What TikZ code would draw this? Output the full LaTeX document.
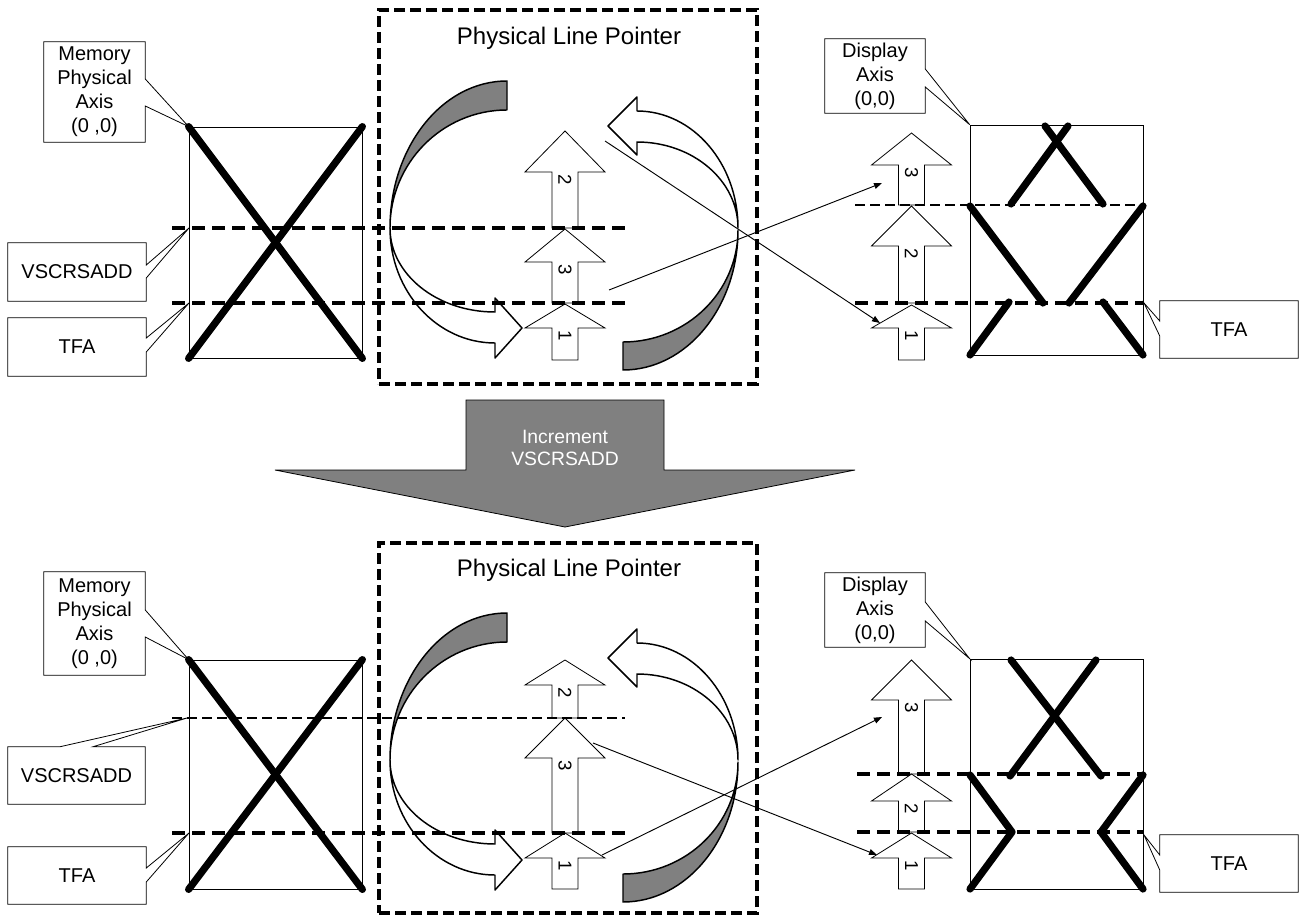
\documentclass[tikz,border=0pt]{standalone}
\usepackage{fontspec}
\setmainfont{Liberation Sans}
\usepackage{tikz}
\usetikzlibrary{arrows.meta}
\definecolor{ShadeGray}{RGB}{128,128,128}

\newcommand{\upblock}[6]{%
    \draw[blockarrow] ({#2-13},#5) -- ({#2-13},#4) -- ({#2-40},#4) -- (#2,#3)
        -- ({#2+40},#4) -- ({#2+13},#4) -- ({#2+13},#5) -- cycle;
    \node[digit] (#1) at (#2,{#4+2}) {#6};
}

\begin{document}
\begin{tikzpicture}[x=0.75pt,y=-0.75pt,
    frame/.style={draw,line width=0.6pt,inner sep=0pt},
    calltext/.style={align=center,inner sep=0pt,font=\fontsize{15}{18}\selectfont},
    callout/.style={draw,line width=0.6pt,line join=miter},
    ptrbox/.style={draw,line width=2.7pt,dash pattern=on 8pt off 4pt,inner sep=0pt},
    heavy/.style={line width=5.4pt,line cap=round,line join=round},
    thickdash/.style={line width=2.8pt,dash pattern=on 10pt off 5pt},
    thindash/.style={line width=1.3pt,dash pattern=on 7.5pt off 3.75pt},
    ribbon/.style={draw,line width=1.1pt,line join=round},
    blockarrow/.style={draw,fill=white,line width=0.6pt},
    digit/.style={rotate=-90,anchor=west,inner sep=0pt,font=\fontsize{14}{14}\selectfont},
    pointer/.style={line width=0.7pt,-{Triangle[length=6pt,width=4.5pt]}},
    title/.style={font=\fontsize{18}{20}\selectfont}]
    \useasboundingbox (0,0) rectangle (1308,917);

    \node[ptrbox,minimum width=283.5pt,minimum height=280.5pt] (plpT) at (568,197) {};
    \node[ptrbox,minimum width=283.5pt,minimum height=277.5pt] (plpB) at (568,728) {};
    \node[title] (plpTitleT) at (569,38) {Physical Line Pointer};
    \node[title] (plpTitleB) at (569,570) {Physical Line Pointer};

    \foreach \dy in {0,532} {
      \begin{scope}[shift={(0,\dy)}]
        \filldraw[ribbon,fill=ShadeGray] (507,81)
            arc[start angle=270,end angle=180,x radius=117,y radius=147]
            arc[start angle=180,end angle=270,x radius=117,y radius=118] -- cycle;
        \filldraw[ribbon,fill=white] (390,228)
            arc[start angle=180,end angle=90,x radius=105,y radius=84]
            -- (495,298) -- (522,328) -- (495,358) -- (495,343)
            arc[start angle=90,end angle=180,x radius=105,y radius=115] -- cycle;
        \filldraw[ribbon,fill=ShadeGray] (623,370)
            arc[start angle=90,end angle=0,x radius=115,y radius=140]
            arc[start angle=0,end angle=90,x radius=115,y radius=112] -- cycle;
        \filldraw[ribbon,fill=white] (738,228)
            arc[start angle=0,end angle=-90,x radius=101,y radius=117]
            -- (637,97) -- (608,126) -- (637,155) -- (637,142)
            arc[start angle=-90,end angle=0,x radius=101,y radius=86] -- cycle;
      \end{scope}
    }

    \node[frame,minimum width=129.75pt,minimum height=173.25pt] (memRectT) at (275.5,242.5) {};
    \node[frame,minimum width=129.75pt,minimum height=171.75pt] (memRectB) at (275.5,774.5) {};
    \node[frame,minimum width=129.75pt,minimum height=172.5pt] (dispRectT) at (1056.5,240) {};
    \node[frame,minimum width=129.75pt,minimum height=172.5pt] (dispRectB) at (1056.5,774) {};

    \upblock{lpT2}{565}{131}{172}{228}{2}
    \upblock{lpT3}{565}{229}{262}{303}{3}
    \upblock{lpT1}{565}{304}{328}{360}{1}
    \upblock{dpT3}{911.5}{133}{165}{205}{3}
    \upblock{dpT2}{911.5}{206}{246}{303}{2}
    \upblock{dpT1}{911.5}{305}{328}{360}{1}
    \upblock{lpB2}{565}{660}{685}{718}{2}
    \upblock{lpB3}{565}{718}{758}{833}{3}
    \upblock{lpB1}{565}{833}{858}{889}{1}
    \upblock{dpB3}{911.5}{660}{700}{774}{3}
    \upblock{dpB2}{911.5}{774}{801}{832}{2}
    \upblock{dpB1}{911.5}{833}{858}{889}{1}

    \draw[thickdash] (172,228) -- (625,228);
    \draw[thickdash] (172,303) -- (625,303);
    \draw[thindash] (855,205) -- (1143,205);
    \draw[thickdash] (855,303) -- (1143,303);
    \draw[thindash] (172,718) -- (625,718);
    \draw[thickdash] (172,833) -- (625,833);
    \draw[thickdash] (857,774) -- (1143,774);
    \draw[thickdash] (857,832) -- (1143,832);

    \draw[heavy] (memRectT.north west) -- (memRectT.south east);
    \draw[heavy] (memRectT.north east) -- (memRectT.south west);
    \draw[heavy] (memRectB.north west) -- (memRectB.south east);
    \draw[heavy] (memRectB.north east) -- (memRectB.south west);
    \draw[heavy] (1045,126) -- (1103,204);
    \draw[heavy] (1068,126) -- (1011,204);
    \draw[heavy] (970,206) -- (1043,303);
    \draw[heavy] (1143,206) -- (1069,303);
    \draw[heavy] (1009,302) -- (970,355);
    \draw[heavy] (1103,302) -- (1143,355);
    \draw[heavy] (1011,660) -- (1101,776);
    \draw[heavy] (1096,660) -- (1010,776);
    \draw[heavy] (970,775) -- (1012,832) -- (970,889);
    \draw[heavy] (1143,775) -- (1101,832) -- (1143,889);

    \coordinate (vsLvlT) at (189,228);
    \coordinate (tfaLvlT) at (189,303);
    \coordinate (tfaRLvlT) at (1144,303);
    \coordinate (vsLvlB) at (187,718);
    \coordinate (tfaLvlB) at (189,833);
    \coordinate (tfaRLvlB) at (1144,835);

    \node[calltext,minimum width=75.75pt,minimum height=75pt] (memAxisT) at (94.5,92) {Memory\\Physical\\Axis\\(0 ,0)};
    \node[calltext,minimum width=103.5pt,minimum height=43.5pt] (vscrT) at (77,272) {VSCRSADD};
    \node[calltext,minimum width=103.5pt,minimum height=43.5pt] (tfaLT) at (77,347) {TFA};
    \node[calltext,minimum width=75pt,minimum height=55.5pt] (dispAxisT) at (875,76) {Display\\Axis\\(0,0)};
    \node[calltext,minimum width=103.5pt,minimum height=42.75pt] (tfaRT) at (1229,329.5) {TFA};
    \node[calltext,minimum width=75.75pt,minimum height=77.25pt] (memAxisB) at (94.5,623.5) {Memory\\Physical\\Axis\\(0 ,0)};
    \node[calltext,minimum width=102.75pt,minimum height=42.75pt] (vscrB) at (76.5,775.5) {VSCRSADD};
    \node[calltext,minimum width=103.5pt,minimum height=42.75pt] (tfaLB) at (77,875.5) {TFA};
    \node[calltext,minimum width=75pt,minimum height=55.5pt] (dispAxisB) at (875,610) {Display\\Axis\\(0,0)};
    \node[calltext,minimum width=103.5pt,minimum height=42.75pt] (tfaRB) at (1229,863.5) {TFA};

    \draw[callout] (memAxisT.north west) -- (memAxisT.north east) -- (memAxisT.east |- 0,79)
        -- (memRectT.north west) -- (memAxisT.east |- 0,106) -- (memAxisT.south east)
        -- (memAxisT.south west) -- cycle;
    \draw[callout] (vscrT.north west) -- (vscrT.north east) -- (vscrT.east |- 0,265)
        -- (vsLvlT) -- (vscrT.east |- 0,278) -- (vscrT.south east) -- (vscrT.south west) -- cycle;
    \draw[callout] (tfaLT.north west) -- (tfaLT.north east) -- (tfaLT.east |- 0,338)
        -- (tfaLvlT) -- (tfaLT.east |- 0,352) -- (tfaLT.south east) -- (tfaLT.south west) -- cycle;
    \draw[callout] (dispAxisT.north west) -- (dispAxisT.north east) -- (dispAxisT.east |- 0,69)
        -- (dispRectT.north west) -- (dispAxisT.east |- 0,87) -- (dispAxisT.south east)
        -- (dispAxisT.south west) -- cycle;
    \draw[callout] (tfaRT.north west) -- (tfaRT.north east) -- (tfaRT.south east)
        -- (tfaRT.south west) -- (tfaRT.west |- 0,336) -- (tfaRLvlT) -- (tfaRT.west |- 0,321) -- cycle;
    \draw[callout] (memAxisB.north west) -- (memAxisB.north east) -- (memAxisB.east |- 0,610)
        -- (memRectB.north west) -- (memAxisB.east |- 0,637) -- (memAxisB.south east)
        -- (memAxisB.south west) -- cycle;
    \draw[callout] (vscrB.north west) -- (vscrB.north -| 60,0) -- (vsLvlB) -- (vscrB.north -| 93,0)
        -- (vscrB.north east) -- (vscrB.south east) -- (vscrB.south west) -- cycle;
    \draw[callout] (tfaLB.north west) -- (tfaLB.north east) -- (tfaLB.east |- 0,868)
        -- (tfaLvlB) -- (tfaLB.east |- 0,882) -- (tfaLB.south east) -- (tfaLB.south west) -- cycle;
    \draw[callout] (dispAxisB.north west) -- (dispAxisB.north east) -- (dispAxisB.east |- 0,602)
        -- (dispRectB.north west) -- (dispAxisB.east |- 0,621) -- (dispAxisB.south east)
        -- (dispAxisB.south west) -- cycle;
    \draw[callout] (tfaRB.north west) -- (tfaRB.north east) -- (tfaRB.south east)
        -- (tfaRB.south west) -- (tfaRB.west |- 0,870) -- (tfaRLvlB) -- (tfaRB.west |- 0,855) -- cycle;

    \coordinate (mapT1s) at (605,141);
    \coordinate (mapT1e) at (880,323);
    \coordinate (mapT3s) at (609,290);
    \coordinate (mapT3e) at (882,183);
    \coordinate (mapB1s) at (593,743);
    \coordinate (mapB1e) at (877,855);
    \coordinate (mapB3s) at (602,855);
    \coordinate (mapB3e) at (882,717);
    \draw[pointer] (mapT1s) -- (mapT1e);
    \draw[pointer] (mapT3s) -- (mapT3e);
    \draw[pointer] (mapB1s) -- (mapB1e);
    \draw[pointer] (mapB3s) -- (mapB3e);

    \filldraw[fill=ShadeGray,line width=0.6pt] (466,400) -- (664,400) -- (664,470) -- (855,470)
        -- (565,527) -- (275,470) -- (466,470) -- cycle;
    \node[align=center,text=white,font=\fontsize{14.5}{16}\selectfont] (incr) at (565,448) {Increment\\VSCRSADD};
\end{tikzpicture}
\end{document}
